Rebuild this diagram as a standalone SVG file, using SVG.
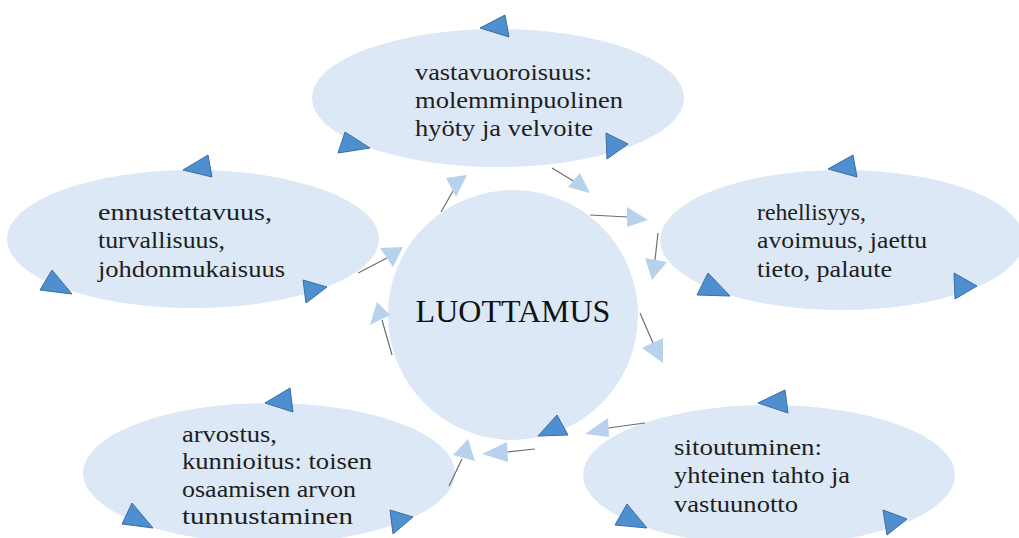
<svg xmlns="http://www.w3.org/2000/svg" width="1019" height="538" viewBox="0 0 1019 538">
<style>
.bub{fill:#dce8f5;stroke:none}
.tx{font-family:"Liberation Serif","Times New Roman",serif;font-size:24px;fill:#1e1e1e}
.main{font-family:"Liberation Serif","Times New Roman",serif;font-size:32px;fill:#111}
.tri{fill:#4e8fcf;stroke:#3c6ea3;stroke-width:1;stroke-linejoin:round}
.ln{stroke:#6e6e6e;stroke-width:1.2;fill:none}
.hd{fill:#b7d2ec;stroke:none}
</style>
<rect width="1019" height="538" fill="#ffffff"/>
<g id="node-luottamus">
<circle class="bub" cx="513" cy="315" r="125"/>
<text class="main" x="513" y="322" text-anchor="middle">LUOTTAMUS</text>
<polygon class="tri" points="538,436 557,415 568,435"/>
</g>
<g id="node-vastavuoroisuus">
<ellipse class="bub" cx="498" cy="98" rx="186" ry="69"/>
<text class="tx" x="415" y="80" textLength="177" lengthAdjust="spacingAndGlyphs">vastavuoroisuus:</text>
<text class="tx" x="415" y="108" textLength="208" lengthAdjust="spacingAndGlyphs">molemminpuolinen</text>
<text class="tx" x="415" y="136" textLength="178" lengthAdjust="spacingAndGlyphs">hyöty ja velvoite</text>
<polygon class="tri" points="480,28 505,15 509,37"/>
<polygon class="tri" points="338,153 345,132 370,148"/>
<polygon class="tri" points="606,133 628,144 607,159"/>
</g>
<g id="node-rehellisyys">
<ellipse class="bub" cx="842" cy="240" rx="182" ry="70"/>
<text class="tx" x="757" y="220" textLength="109" lengthAdjust="spacingAndGlyphs">rehellisyys,</text>
<text class="tx" x="757" y="248" textLength="170" lengthAdjust="spacingAndGlyphs">avoimuus, jaettu</text>
<text class="tx" x="757" y="277" textLength="135" lengthAdjust="spacingAndGlyphs">tieto, palaute</text>
<polygon class="tri" points="828,169 853,155 857,177"/>
<polygon class="tri" points="697,295 708,273 730,296"/>
<polygon class="tri" points="954,273 977,286 955,299"/>
</g>
<g id="node-sitoutuminen">
<ellipse class="bub" cx="769" cy="475" rx="186" ry="70"/>
<text class="tx" x="674" y="455" textLength="148" lengthAdjust="spacingAndGlyphs">sitoutuminen:</text>
<text class="tx" x="674" y="483" textLength="176" lengthAdjust="spacingAndGlyphs">yhteinen tahto ja</text>
<text class="tx" x="674" y="512" textLength="124" lengthAdjust="spacingAndGlyphs">vastuunotto</text>
<polygon class="tri" points="758,403 785,390 788,413"/>
<polygon class="tri" points="615,525 627,504 647,528"/>
<polygon class="tri" points="883,510 907,519 887,535"/>
</g>
<g id="node-arvostus">
<ellipse class="bub" cx="269" cy="473" rx="186" ry="70"/>
<text class="tx" x="182" y="442" textLength="95" lengthAdjust="spacingAndGlyphs">arvostus,</text>
<text class="tx" x="182" y="469" textLength="190" lengthAdjust="spacingAndGlyphs">kunnioitus: toisen</text>
<text class="tx" x="182" y="497" textLength="174" lengthAdjust="spacingAndGlyphs">osaamisen arvon</text>
<text class="tx" x="182" y="524" textLength="171" lengthAdjust="spacingAndGlyphs">tunnustaminen</text>
<polygon class="tri" points="265,403 290,388 293,412"/>
<polygon class="tri" points="122,524 132,503 153,528"/>
<polygon class="tri" points="390,510 413,517 393,534"/>
</g>
<g id="node-ennustettavuus">
<ellipse class="bub" cx="193" cy="239" rx="186" ry="69"/>
<text class="tx" x="98" y="220" textLength="174" lengthAdjust="spacingAndGlyphs">ennustettavuus,</text>
<text class="tx" x="98" y="248" textLength="127" lengthAdjust="spacingAndGlyphs">turvallisuus,</text>
<text class="tx" x="98" y="277" textLength="187" lengthAdjust="spacingAndGlyphs">johdonmukaisuus</text>
<polygon class="tri" points="183,170 208,155 212,177"/>
<polygon class="tri" points="40,290 52,270 72,294"/>
<polygon class="tri" points="303,280 327,287 306,303"/>
</g>
<g id="connectors">
<line class="ln" x1="441" y1="212" x2="453" y2="191"/>
<polygon class="hd" points="446,178 467,175 456,197"/>
<line class="ln" x1="552" y1="168" x2="575" y2="182"/>
<polygon class="hd" points="568,187 580,173 590,193"/>
<line class="ln" x1="590" y1="215" x2="628" y2="217"/>
<polygon class="hd" points="627,207 648,220 627,227"/>
<line class="ln" x1="658" y1="233" x2="655" y2="260"/>
<polygon class="hd" points="645,258 667,262 652,280"/>
<line class="ln" x1="640" y1="313" x2="653" y2="343"/>
<polygon class="hd" points="642,348 663,338 663,363"/>
<line class="ln" x1="645" y1="423" x2="608" y2="428"/>
<polygon class="hd" points="608,418 585,434 609,437"/>
<line class="ln" x1="535" y1="449" x2="507" y2="452"/>
<polygon class="hd" points="507,442 482,454 508,462"/>
<line class="ln" x1="449" y1="486" x2="462" y2="459"/>
<polygon class="hd" points="453,455 468,439 475,461"/>
<line class="ln" x1="392" y1="355" x2="382" y2="320"/>
<polygon class="hd" points="370,325 377,302 390,315"/>
<line class="ln" x1="358" y1="273" x2="387" y2="258"/>
<polygon class="hd" points="380,248 403,247 393,267"/>
</g>
</svg>
